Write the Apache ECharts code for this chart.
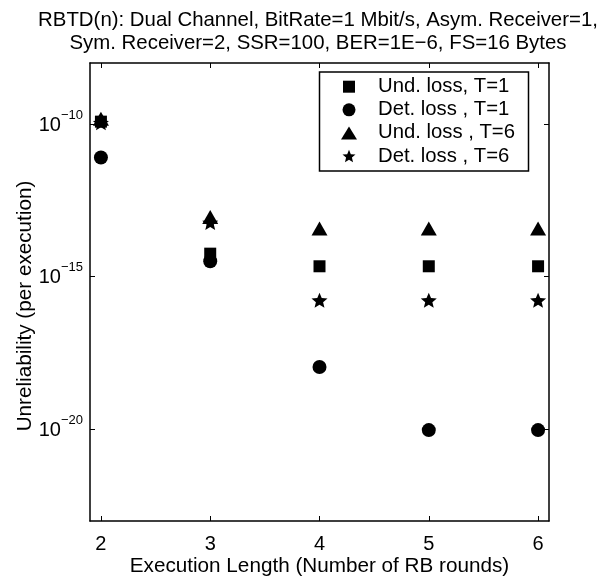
<!DOCTYPE html>
<html>
<head>
<meta charset="utf-8">
<script src="https://cdn.jsdelivr.net/npm/echarts@6/dist/echarts.min.js"></script>
<style>html,body{margin:0;padding:0;background:#fff;}#chart{width:605px;height:578px;}</style>
</head>
<body>
<div id="chart"></div>
<script>
// ---- data ----
var titleLines = ['RBTD(n): Dual Channel, BitRate=1 Mbit/s, Asym. Receiver=1,', 'Sym. Receiver=2, SSR=100, BER=1E\u22126, FS=16 Bytes'];
var xTicks = [2, 3, 4, 5, 6];
var yTicks = [1e-10, 1e-15, 1e-20];
var executionLength = [2, 3, 4, 5, 6];
var seriesNames = ['Und. loss, T=1', 'Det. loss , T=1', 'Und. loss , T=6', 'Det. loss , T=6'];
var undLossT1 = [1.2e-10, 5.7e-15, 2.2e-15, 2.2e-15, 2.2e-15];
var detLossT1 = [8e-12, 3.2e-15, 1.1e-18, 9.5e-21, 9.5e-21];
var undLossT6 = [1.5e-10, 9e-14, 3.8e-14, 3.8e-14, 3.8e-14];
var detLossT6 = [1.1e-10, 6e-14, 1.7e-16, 1.7e-16, 1.7e-16];

// 5-point star, inner radius ratio ~0.45
var STAR = 'path://M50 0 L63.2 31.8 L97.55 34.55 L71.4 56.95 L79.39 90.45 L50 72.5 L20.61 90.45 L28.6 56.95 L2.45 34.55 L36.8 31.8 Z';
var FONT = '"Liberation Sans", Arial, Helvetica, sans-serif';

function pairs(xs, ys) { return xs.map(function (x, i) { return [x, ys[i]]; }); }

var seriesDefs = [
  { name: seriesNames[0], data: undLossT1, symbol: 'rect', size: 12, lw: 12, lh: 12 },
  { name: seriesNames[1], data: detLossT1, symbol: 'circle', size: 14, lw: 13, lh: 13 },
  { name: seriesNames[2], data: undLossT6, symbol: 'triangle', size: [16, 14], lw: 16, lh: 13 },
  { name: seriesNames[3], data: detLossT6, symbol: STAR, size: [16, 15], lw: 13, lh: 13 }
];
var legendRows = [86.7, 109.8, 132.9, 156.0];
var legendSymbolX = 349, legendTextX = 378;

var chart = echarts.init(document.getElementById('chart'), null, { renderer: 'canvas' });

function yLabel(v) {
  var e = Math.round(Math.log10(v));
  return '{b|10}{s|' + (e < 0 ? '\u2212' : '') + Math.abs(e) + '}';
}

var axisLineStyle = { color: '#000', width: 1.5 };

var option = {
  backgroundColor: '#fff',
  animation: false,
  textStyle: { fontFamily: FONT },
  title: {
    text: titleLines.join('\n'),
    left: 313, top: 4, textAlign: 'center',
    textStyle: { fontFamily: FONT, fontSize: 20.4, fontWeight: 'normal', color: '#000', lineHeight: 23 }
  },
  grid: { left: 90, right: 56, top: 63, bottom: 57, containLabel: false, outerBoundsMode: 'none' },
  xAxis: [{
    type: 'value', min: 1.9, max: 6.1, position: 'bottom',
    name: 'Execution Length (Number of RB rounds)', nameLocation: 'middle', nameGap: 35, nameMoveOverlap: false,
    nameTextStyle: { fontFamily: FONT, fontSize: 20.7, color: '#000' },
    axisLine: { show: true, onZero: false, lineStyle: axisLineStyle },
    axisTick: { show: true, inside: true, length: 5, customValues: xTicks, lineStyle: { color: '#000', width: 1 } },
    axisLabel: { show: true, customValues: xTicks, margin: 13, fontFamily: FONT, fontSize: 20, color: '#000' },
    splitLine: { show: false }
  }, {
    type: 'value', min: 1.9, max: 6.1, position: 'top',
    axisLine: { show: true, onZero: false, lineStyle: axisLineStyle },
    axisTick: { show: true, inside: true, length: 5, customValues: xTicks, lineStyle: { color: '#000', width: 1 } },
    axisLabel: { show: false },
    splitLine: { show: false }
  }],
  yAxis: [{
    type: 'log', logBase: 10, min: 1e-23, max: 1e-8, position: 'left',
    name: 'Unreliability (per execution)', nameLocation: 'middle', nameGap: 54, nameRotate: 90, nameMoveOverlap: false,
    nameTextStyle: { fontFamily: FONT, fontSize: 20.7, color: '#000', padding: [0, 28, 0, 0] },
    axisLine: { show: true, onZero: false, lineStyle: axisLineStyle },
    axisTick: { show: true, inside: true, length: 5, customValues: yTicks, lineStyle: { color: '#000', width: 1 } },
    minorTick: { show: false },
    axisLabel: {
      show: true, customValues: yTicks, margin: 7, formatter: yLabel,
      rich: {
        b: { fontFamily: FONT, fontSize: 20, color: '#000', verticalAlign: 'middle', lineHeight: 20, padding: [2, 0, 0, 0] },
        s: { fontFamily: FONT, fontSize: 13, color: '#000', verticalAlign: 'middle', lineHeight: 13, padding: [0, 0, 18, 0] }
      }
    },
    splitLine: { show: false }
  }, {
    type: 'log', logBase: 10, min: 1e-23, max: 1e-8, position: 'right',
    axisLine: { show: true, onZero: false, lineStyle: axisLineStyle },
    axisTick: { show: true, inside: true, length: 5, customValues: yTicks, lineStyle: { color: '#000', width: 1 } },
    axisLabel: { show: false },
    splitLine: { show: false }
  }],
  legend: seriesDefs.map(function (d, i) {
    var left = legendSymbolX - d.lw / 2;
    return {
      data: [{ name: d.name, icon: d.symbol }],
      orient: 'vertical',
      left: left, top: legendRows[i] - 10,
      padding: 0,
      itemWidth: d.lw, itemHeight: d.lh,
      selectedMode: false,
      textStyle: { fontFamily: FONT, fontSize: 20.3, color: '#000', lineHeight: 20,
        padding: [0, 0, 0, legendTextX - (left + d.lw + 5)] },
      itemStyle: { color: '#000' },
      z: 5
    };
  }),
  graphic: [{
    type: 'rect', z: 4,
    shape: { x: 319.5, y: 72, width: 209, height: 99 },
    style: { fill: '#fff', stroke: '#000', lineWidth: 1.5 }
  }],
  series: seriesDefs.map(function (d) {
    return {
      name: d.name, type: 'scatter', xAxisIndex: 0, yAxisIndex: 0,
      symbol: d.symbol, symbolSize: d.size,
      itemStyle: { color: '#000', opacity: 1 },
      data: pairs(executionLength, d.data)
    };
  })
};
chart.setOption(option);
</script>
</body>
</html>
